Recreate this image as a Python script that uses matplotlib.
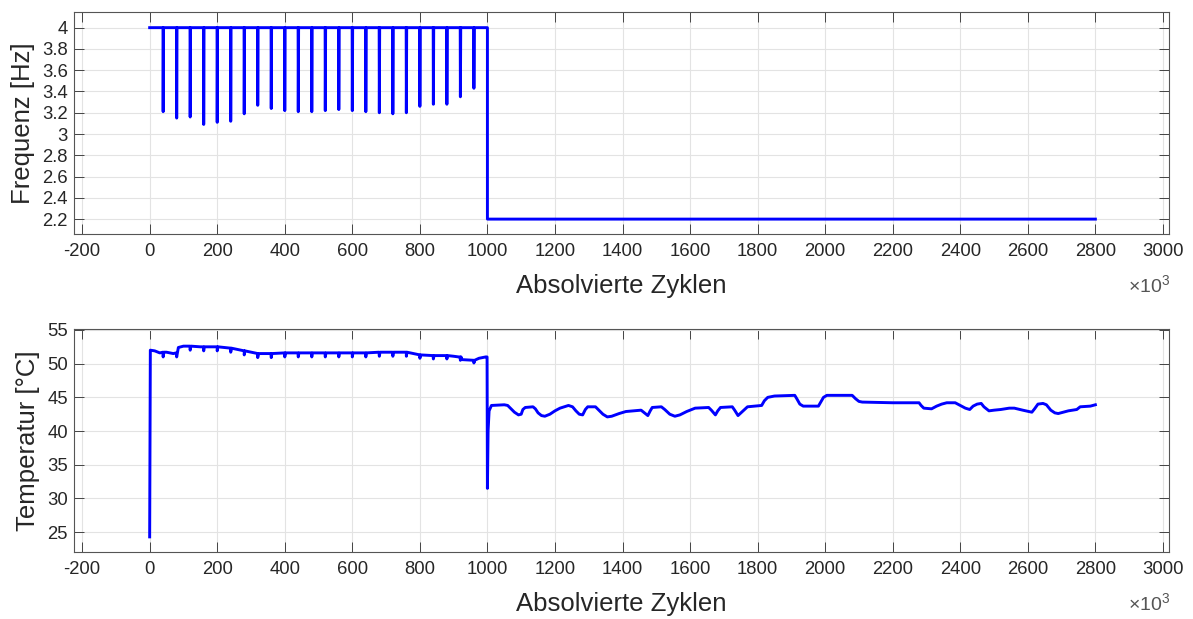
import matplotlib
matplotlib.use("Agg")
import matplotlib.pyplot as plt
import numpy as np

plt.rcParams['font.family'] = ['Liberation Sans', 'DejaVu Sans']
plt.rcParams['mathtext.fontset'] = 'custom'
plt.rcParams['mathtext.rm'] = 'Liberation Sans'
plt.rcParams['mathtext.it'] = 'Liberation Sans'

# ---------------- data (cycles in thousands) ----------------
x_ticks = [-200, 0, 200, 400, 600, 800, 1000, 1200, 1400, 1600, 1800,
           2000, 2200, 2400, 2600, 2800, 3000]
x_ticklabels = ['-200', '0', '200', '400', '600', '800', '1000', '1200', '1400',
                '1600', '1800', '2000', '2200', '2400', '2600', '2800', '3000']

freq_ticks = [2.2, 2.4, 2.6, 2.8, 3.0, 3.2, 3.4, 3.6, 3.8, 4.0]
freq_ticklabels = ['2.2', '2.4', '2.6', '2.8', '3', '3.2', '3.4', '3.6', '3.8', '4']
temp_ticks = [25, 30, 35, 40, 45, 50, 55]

freq_high = 4.0
freq_low = 2.2
freq_start = 0
freq_switch = 1000
freq_end = 2800
freq_dip_cycles = [40, 80, 120, 160, 200, 240, 280, 320, 360, 400, 440, 480,
                   520, 560, 600, 640, 680, 720, 760, 800, 840, 880, 920, 960]
freq_dip_values = [3.21, 3.15, 3.16, 3.09, 3.11, 3.12, 3.19, 3.27, 3.24, 3.22,
                   3.21, 3.21, 3.22, 3.23, 3.22, 3.21, 3.20, 3.19, 3.20, 3.26,
                   3.28, 3.28, 3.35, 3.43]

temp_cycles = [0, 2, 15, 30, 50, 70, 85, 100, 150, 200, 240, 280, 320, 400,
               500, 600, 700, 760, 800, 900, 915, 925, 960, 975, 995, 999,
               1000, 1002, 1005, 1012, 1050, 1060, 1070, 1080, 1092, 1100,
               1105, 1112, 1135, 1142, 1150, 1160, 1170, 1185, 1200, 1215,
               1240, 1252, 1262, 1272, 1282, 1290, 1297, 1320, 1330, 1342,
               1355, 1368, 1390, 1410, 1455, 1465, 1475, 1482, 1488, 1515,
               1525, 1540, 1555, 1570, 1590, 1615, 1655, 1663, 1675, 1682,
               1690, 1725, 1732, 1742, 1755, 1770, 1812, 1820, 1830, 1850,
               1910, 1916, 1925, 1935, 1980, 1988, 1995, 2005, 2080, 2090,
               2100, 2110, 2200, 2278, 2284, 2292, 2315, 2330, 2345, 2360,
               2385, 2400, 2415, 2428, 2438, 2450, 2462, 2470, 2485, 2500,
               2520, 2545, 2560, 2585, 2612, 2620, 2630, 2645, 2655, 2668,
               2680, 2690, 2705, 2720, 2745, 2755, 2785, 2800]
temp_values = [24.3, 52.0, 51.9, 51.6, 51.7, 51.5, 52.4, 52.6, 52.5, 52.5,
               52.3, 51.9, 51.5, 51.6, 51.6, 51.6, 51.7, 51.7, 51.3, 51.1,
               51.0, 50.6, 50.5, 50.8, 51.0, 51.0,
               31.5, 40.0, 43.0, 43.8, 43.9, 43.8, 43.3, 42.8, 42.4, 42.5,
               43.2, 43.5, 43.6, 43.3, 42.7, 42.3, 42.2, 42.5, 43.0, 43.4,
               43.8, 43.6, 43.0, 42.5, 42.4, 43.2, 43.6, 43.6, 43.1, 42.5,
               42.1, 42.2, 42.6, 42.9, 43.1, 42.7, 42.3, 43.0, 43.5, 43.6,
               43.2, 42.5, 42.2, 42.4, 42.9, 43.4, 43.5, 43.1, 42.4, 43.0,
               43.5, 43.6, 43.1, 42.3, 42.9, 43.6, 43.8, 44.5, 45.0, 45.2,
               45.3, 44.8, 44.0, 43.7, 43.7, 44.4, 45.0, 45.3, 45.3, 44.8,
               44.4, 44.3, 44.2, 44.2, 43.8, 43.4, 43.3, 43.7, 44.0, 44.2,
               44.2, 43.8, 43.4, 43.2, 43.7, 44.0, 44.1, 43.6, 43.0, 43.1,
               43.2, 43.4, 43.4, 43.1, 42.8, 43.3, 44.0, 44.1, 43.9, 43.1,
               42.7, 42.6, 42.8, 43.0, 43.2, 43.6, 43.7, 43.9]

# short temperature notches at each frequency dip
temp_notch_cycles = [40, 80, 120, 160, 200, 240, 280, 320, 360, 400, 440, 480,
                     520, 560, 600, 640, 680, 720, 760, 800, 840, 880, 920, 960]
temp_notch_tops = [51.7, 51.6, 52.6, 52.5, 52.5, 52.3, 51.9, 51.5, 51.5, 51.6,
                   51.6, 51.6, 51.6, 51.6, 51.6, 51.6, 51.7, 51.7, 51.7, 51.3,
                   51.2, 51.2, 51.0, 50.5]
temp_notch_bottoms = [51.0, 51.0, 52.0, 51.9, 51.9, 51.7, 51.3, 50.9, 50.9, 51.0,
                      51.0, 51.0, 51.0, 51.0, 51.0, 51.0, 51.1, 51.1, 51.1, 50.8,
                      50.7, 50.7, 50.5, 50.1]

# ---------------- build polylines ----------------
fx = [freq_start]
fy = [freq_high]
for c, v in zip(freq_dip_cycles, freq_dip_values):
    fx += [c - 0.5, c, c + 1.0]
    fy += [freq_high, v, freq_high]
fx += [freq_switch, freq_switch, freq_end]
fy += [freq_high, freq_low, freq_low]

pts = list(zip(temp_cycles, temp_values))
for c, t, b in zip(temp_notch_cycles, temp_notch_tops, temp_notch_bottoms):
    pts += [(c - 1.0, t), (c, b), (c + 2.0, t)]
pts.sort(key=lambda p: p[0])
tx = [p[0] for p in pts]
ty = [p[1] for p in pts]

# ---------------- figure ----------------
W, H = 1193, 619
fig = plt.figure(figsize=(W / 100, H / 100), dpi=100)

def px_axes(l, t, r, b):
    return fig.add_axes([l / W, 1 - b / H, (r - l) / W, (b - t) / H])

ax1 = px_axes(74, 11.7, 1169, 234)
ax2 = px_axes(74, 329.3, 1169, 551.7)

txt_col = '#262626'
line_col = (0, 0, 1)

for ax in (ax1, ax2):
    ax.set_xlim(-224, 3018)
    ax.set_xticks(x_ticks)
    ax.set_xticklabels(x_ticklabels)
    ax.grid(True, color='#e3e3e3', linewidth=0.8)
    ax.set_axisbelow(True)
    ax.tick_params(axis='both', direction='in', length=7, width=0.7,
                   color='#444444', labelcolor=txt_col, labelsize=13.3,
                   top=True, right=True)
    ax.tick_params(axis='x', pad=6.5)
    ax.tick_params(axis='y', pad=4.5)
    for s in ax.spines.values():
        s.set_color('#555555')
        s.set_linewidth(0.8)

ax1.plot(fx, fy, color=line_col, linewidth=2.1)
ax1.set_ylim(2.06, 4.15)
ax1.set_yticks(freq_ticks)
ax1.set_yticklabels(freq_ticklabels)

ax2.plot(tx, ty, color=line_col, linewidth=2.1)
ax2.set_ylim(22.1, 55.1)
ax2.set_yticks(temp_ticks)

for ax, ylabel, ylx in ((ax1, 'Frequenz [Hz]', -0.0466), (ax2, 'Temperatur [°C]', -0.042)):
    ax.set_xlabel('Absolvierte Zyklen', fontsize=18.5, color=txt_col, va='baseline')
    ax.xaxis.set_label_coords(0.5, -59 / 222.3)
    ax.set_ylabel(ylabel, fontsize=18.5, color=txt_col, va='center')
    ax.yaxis.set_label_coords(ylx, 0.5)
    ax.text(1.0015, -58 / 222.3, r'$\times10^{3}$', transform=ax.transAxes,
            ha='right', va='baseline', fontsize=14, color='#555555')

fig.savefig('out.png', dpi=100)
